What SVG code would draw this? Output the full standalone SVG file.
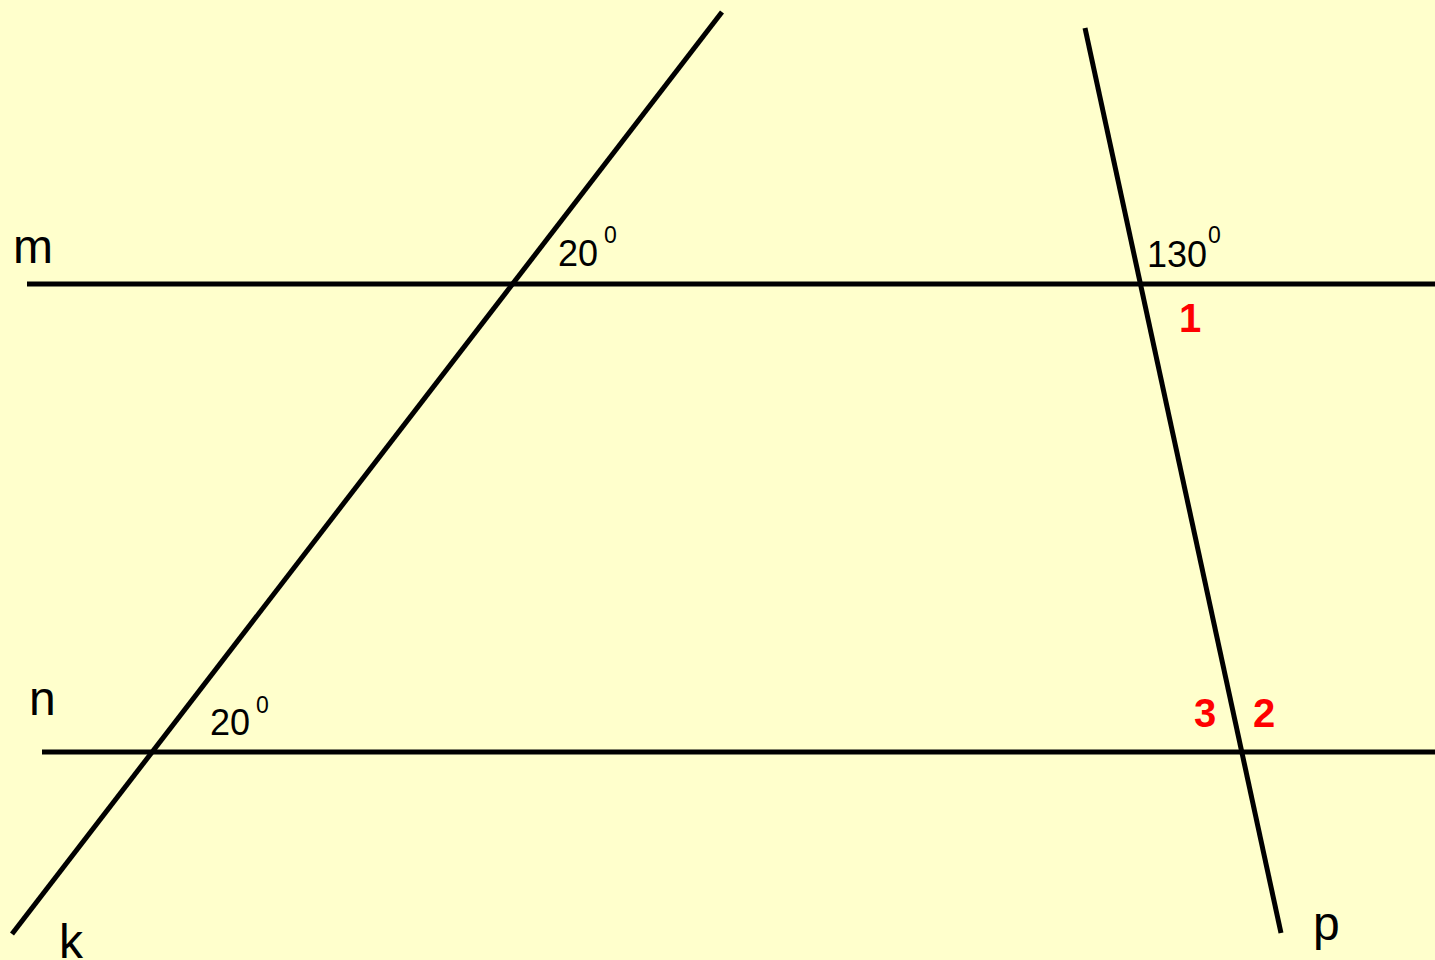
<svg xmlns="http://www.w3.org/2000/svg" width="1435" height="960" viewBox="0 0 1435 960">
<style>
.ln{stroke:#000;stroke-width:5;fill:none}
.lab{font-family:"Liberation Sans",Arial,sans-serif;font-size:48px;fill:#000}
.ang{font-family:"Liberation Sans",Arial,sans-serif;font-size:36px;fill:#000}
.sup{font-family:"Liberation Sans",Arial,sans-serif;font-size:23px;fill:#000}
.num{font-family:"Liberation Sans",Arial,sans-serif;font-size:40px;font-weight:bold;fill:#ff0000}
</style>
<rect width="1435" height="960" fill="#ffffcc"/>
<g id="connectors">
<line id="line-m" class="ln" x1="27" y1="284" x2="1435" y2="284"/>
<line id="line-n" class="ln" x1="42" y1="752" x2="1435" y2="752"/>
<line id="line-k" class="ln" x1="12" y1="934" x2="722" y2="12"/>
<line id="line-p" class="ln" x1="1085" y1="28" x2="1281" y2="933"/>
</g>
<g id="label-m"><text class="lab" x="13" y="263">m</text></g>
<g id="label-n"><text class="lab" x="29" y="715">n</text></g>
<g id="label-k"><text class="lab" x="59" y="958">k</text></g>
<g id="label-p"><text class="lab" x="1313" y="940">p</text></g>
<g id="angle-m-k"><text class="ang" x="558" y="266">20</text><text class="sup" x="604" y="243">0</text></g>
<g id="angle-m-p"><text class="ang" x="1147" y="267">130</text><text class="sup" x="1208" y="243">0</text></g>
<g id="angle-n-k"><text class="ang" x="210" y="735">20</text><text class="sup" x="256" y="713">0</text></g>
<g id="angle-1"><text class="num" x="1190" y="332" text-anchor="middle">1</text></g>
<g id="angle-3"><text class="num" x="1194" y="727">3</text></g>
<g id="angle-2"><text class="num" x="1253" y="727">2</text></g>
</svg>
